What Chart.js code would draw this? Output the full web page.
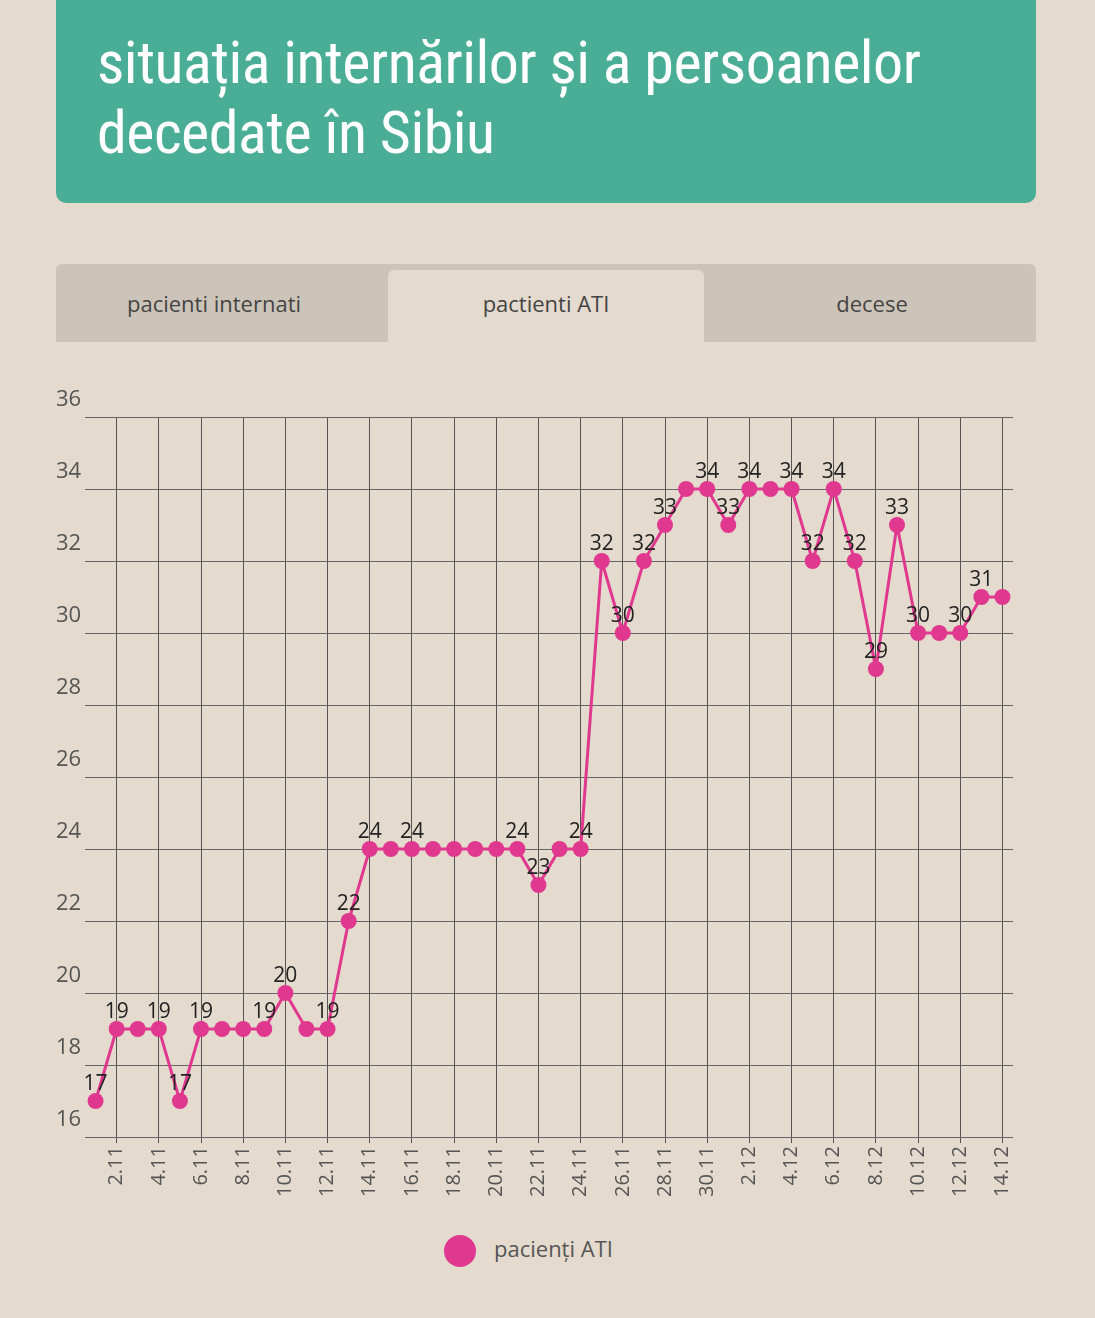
<!DOCTYPE html>
<html><head><meta charset="utf-8">
<script src="https://cdn.jsdelivr.net/npm/chart.js@4"></script>
<style>
body{margin:0;background:#e4dace;width:1095px;height:1318px;position:relative;overflow:hidden;font-family:"Open Sans",sans-serif}
#head{position:absolute;left:56px;top:0;width:980px;height:203px;background:#4aae96;border-radius:0 0 10px 10px}
#head h1{margin:0;position:absolute;left:41px;top:28px;color:#fff;font-family:"Liberation Sans Narrow","Roboto Condensed",sans-serif;font-weight:normal;font-size:60px;line-height:70px;letter-spacing:-0.5px}
#tabs{position:absolute;left:56px;top:264px;width:980px;height:78px;background:#cdc4b9;border-radius:6px 6px 0 0}
.tab{position:absolute;top:6px;height:72px;width:316px;text-align:center;line-height:66px;font-size:22px;color:#444}
#cwrap{position:absolute;left:0;top:360px;width:1095px;height:850px}
#legend{position:absolute;top:1230px;left:444px;font-size:22px;color:#555;line-height:36px}
#legend span{display:inline-block;width:32px;height:32px;border-radius:50%;background:#e0388e;vertical-align:middle;margin-right:18px}
</style></head><body>
<div id="head"><h1>situația internărilor și a persoanelor<br>decedate în Sibiu</h1></div>
<div id="tabs">
<div class="tab" style="left:0">pacienti internati</div>
<div class="tab" style="left:332px;background:#e4dace;border-radius:6px 6px 0 0">pactienti ATI</div>
<div class="tab" style="left:658px">decese</div>
</div>
<div id="cwrap"><canvas id="c"></canvas></div>
<div id="legend"><span></span>pacienți ATI</div>
<script>
const dates = ['1.11','2.11','3.11','4.11','5.11','6.11','7.11','8.11','9.11','10.11','11.11','12.11','13.11','14.11','15.11','16.11','17.11','18.11','19.11','20.11','21.11','22.11','23.11','24.11','25.11','26.11','27.11','28.11','29.11','30.11','1.12','2.12','3.12','4.12','5.12','6.12','7.12','8.12','9.12','10.12','11.12','12.12','13.12','14.12'];
const atiValues = [17,19,19,19,17,19,19,19,19,20,19,19,22,24,24,24,24,24,24,24,24,23,24,24,32,30,32,33,34,34,33,34,34,34,32,34,32,29,33,30,30,30,31,31];
// indices of points that show their value
const labelled = [0,1,3,4,5,8,9,11,12,13,15,20,21,23,24,25,26,27,29,30,31,33,34,35,36,37,38,39,41,42];
const yTicks = [16,18,20,22,24,26,28,30,32,34,36];

const pointLabels = {
  id: 'pointLabels',
  afterDatasetsDraw(chart) {
    const ctx = chart.ctx, meta = chart.getDatasetMeta(0);
    ctx.save();
    ctx.font = '21px "Open Sans", sans-serif';
    ctx.fillStyle = '#222';
    ctx.textAlign = 'center';
    ctx.textBaseline = 'bottom';
    labelled.forEach(i => {
      const p = meta.data[i];
      ctx.fillText(atiValues[i], p.x, p.y - 6);
    });
    // y labels sit above their gridlines
    const y = chart.scales.y;
    ctx.font = '22px "Open Sans", sans-serif';
    ctx.fillStyle = '#555';
    ctx.textAlign = 'left';
    ctx.textBaseline = 'middle';
    yTicks.forEach(v => ctx.fillText(v, 56, y.getPixelForValue(v) - 17));
    ctx.restore();
  }
};

new Chart(document.getElementById('c'), {
  type: 'line',
  data: {
    labels: dates,
    datasets: [{
      label: 'pacienți ATI',
      data: atiValues,
      borderColor: '#e0388e',
      backgroundColor: '#e0388e',
      borderWidth: 3,
      tension: 0,
      pointRadius: 8,
      pointHoverRadius: 8,
      pointBorderWidth: 0
    }]
  },
  options: {
    responsive: true,
    maintainAspectRatio: false,
    animation: false,
    layout: { padding: { left: 85, right: 82, top: 57, bottom: 10 } },
    plugins: { legend: { display: false }, tooltip: { enabled: false } },
    scales: {
      x: {
        offset: true,
        grid: {
          offset: false,
          color: c => (c.index % 2 === 1 ? '#555' : 'rgba(0,0,0,0)'),
          lineWidth: 1,
          tickLength: 6
        },
        border: { display: false },
        ticks: {
          autoSkip: false,
          maxRotation: 90,
          minRotation: 90,
          color: '#555',
          font: { size: 20, family: '"Open Sans", sans-serif' },
          callback: (v, i) => (i % 2 === 1 ? dates[i] : '')
        }
      },
      y: {
        min: 16, max: 36,
        ticks: { stepSize: 2, display: false },
        grid: { color: '#666', lineWidth: 1, drawTicks: false },
        border: { display: false }
      }
    }
  },
  plugins: [pointLabels]
});
</script>
</body></html>
